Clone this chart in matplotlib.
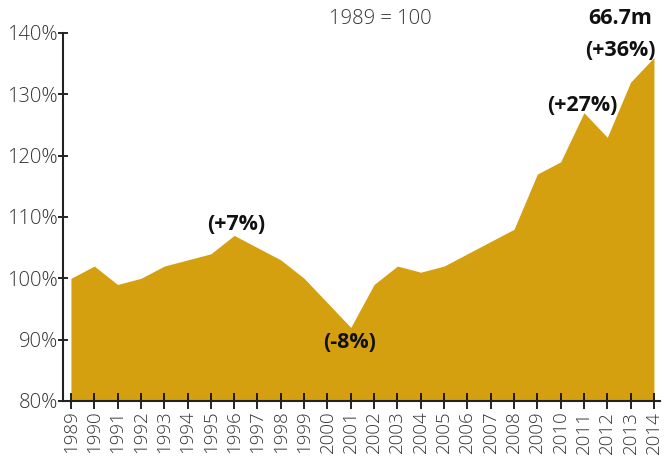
import matplotlib.pyplot as plt

plt.rcParams['font.family'] = ['Open Sans', 'DejaVu Sans']

# index values, 1989 = 100
years = list(range(1989, 2015))
index = [100, 102, 99, 100, 102, 103, 104, 107, 105, 103, 100, 96, 92,
         99, 102, 101, 102, 104, 106, 108, 117, 119, 127, 123, 132, 136]
yticks = [80, 90, 100, 110, 120, 130, 140]

fill_col = '#D5A00F'
txt_col = '#333333'

fig = plt.figure(figsize=(6.65, 4.58), dpi=100)
ax = fig.add_axes([63 / 665, 1 - 401 / 458, 597 / 665, 368 / 458])

ax.fill_between(years, index, 80, color=fill_col, linewidth=0)

ax.set_xlim(1988.66, 2014.26)
ax.set_ylim(80, 140)
ax.set_xticks(years)
ax.set_xticklabels([str(y) for y in years], rotation=90, fontsize=13.5,
                   color=txt_col, fontweight='light')
ax.set_yticks(yticks)
ax.set_yticklabels([f'{v}%' for v in yticks], fontsize=14.5, color=txt_col,
                   fontweight='light')
ax.tick_params(axis='x', direction='inout', length=12, width=1.2, pad=1)
ax.tick_params(axis='y', direction='inout', length=7, width=1.2, pad=0)

for s in ['top', 'right']:
    ax.spines[s].set_visible(False)
for s in ['left', 'bottom']:
    ax.spines[s].set_linewidth(1.5)
    ax.spines[s].set_color('#222222')

# annotations
bold = dict(fontsize=15.5, fontweight='bold', color='#111111', ha='center',
            va='center', clip_on=False)
ax.text(1996.08, 108.7, '(+7%)', **bold)
ax.text(2000.96, 89.6, '(-8%)', **bold)
ax.text(2010.95, 128.1, '(+27%)', **bold)
ax.text(2012.55, 137.2, '(+36%)', **bold)
ax.text(2012.55, 142.4, '66.7m', **bold)
fig.text(380 / 665, 1 - 19 / 458, '1989 = 100', fontsize=14.5, color=txt_col,
         fontweight='light', ha='center', va='center')

fig.savefig('out.png', dpi=100)
